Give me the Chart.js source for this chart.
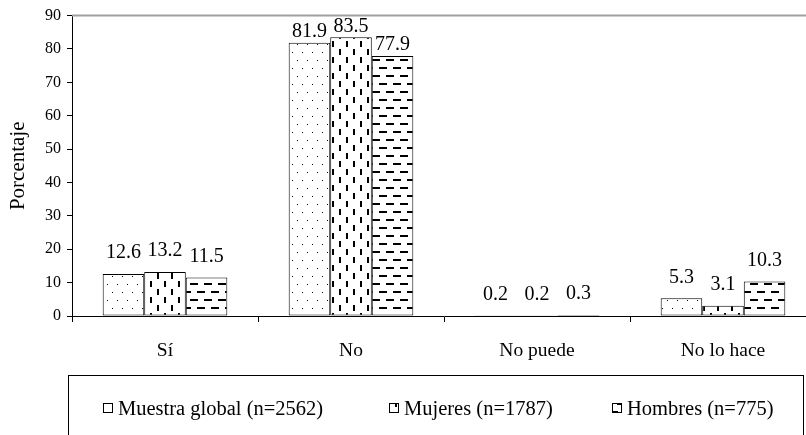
<!DOCTYPE html>
<html lang="es">
<head>
    <meta charset="UTF-8">
    <title>Porcentaje</title>
    <script src="https://cdn.jsdelivr.net/npm/chart.js"></script>
    <style>
        html, body {
            margin: 0;
            padding: 0;
            background: #fff;
            overflow: hidden;
        }
        #chart {
            display: block;
        }
    </style>
</head>
<body>
    <canvas id="chart" width="820" height="435"></canvas>

    <script>
        const categories = ['Sí', 'No', 'No puede', 'No lo hace'];
        const seriesNames = ['Muestra global (n=2562)', 'Mujeres (n=1787)', 'Hombres (n=775)'];
        const globalValues = [12.6, 81.9, 0.2, 5.3];
        const womenValues = [13.2, 83.5, 0.2, 3.1];
        const menValues = [11.5, 77.9, 0.3, 10.3];
        const yTicks = [0, 10, 20, 30, 40, 50, 60, 70, 80, 90];

        const serif = "'Liberation Serif', 'Times New Roman', serif";

        // fill patterns: dots, vertical dashes, horizontal dashes
        function makePattern(kind) {
            const c = document.createElement('canvas');
            const g = c.getContext('2d');
            if (kind === 'dots') {
                c.width = 10; c.height = 16;
                g.fillStyle = '#fff'; g.fillRect(0, 0, 10, 16);
                g.fillStyle = '#000';
                g.fillRect(2, 4, 1, 1);
                g.fillRect(7, 12, 1, 1);
            } else if (kind === 'vdash') {
                c.width = 14; c.height = 16;
                g.fillStyle = '#fff'; g.fillRect(0, 0, 14, 16);
                g.fillStyle = '#000';
                g.fillRect(3, 1, 2, 6);
                g.fillRect(10, 9, 2, 6);
            } else {
                c.width = 14; c.height = 16;
                g.fillStyle = '#fff'; g.fillRect(0, 0, 14, 16);
                g.fillStyle = '#000';
                g.fillRect(1, 3, 8, 2);
                g.fillRect(8, 11, 6, 2);
                g.fillRect(0, 11, 2, 2);
            }
            return g.createPattern(c, 'repeat');
        }

        const patterns = [makePattern('dots'), makePattern('vdash'), makePattern('hdash')];

        const valueLabels = {
            id: 'valueLabels',
            afterDatasetsDraw(chart) {
                const ctx = chart.ctx;
                ctx.save();
                ctx.font = '20px ' + serif;
                ctx.fillStyle = '#000';
                ctx.textAlign = 'center';
                ctx.textBaseline = 'middle';
                chart.data.datasets.forEach((ds, i) => {
                    chart.getDatasetMeta(i).data.forEach((bar, j) => {
                        const v = ds.data[j];
                        let y = bar.y - (v > 50 ? 11 : 21);
                        if (y < 25) y = 25;
                        ctx.fillText(v.toFixed(1), bar.x, y);
                    });
                });
                ctx.restore();
            }
        };

        // top border line of the plot area + boxed legend underneath
        const frameAndLegend = {
            id: 'frameAndLegend',
            afterDraw(chart) {
                const ctx = chart.ctx;
                const area = chart.chartArea;
                ctx.save();
                ctx.strokeStyle = '#a0a0a0';
                ctx.lineWidth = 2;
                ctx.beginPath();
                ctx.moveTo(area.left, area.top);
                ctx.lineTo(806, area.top);
                ctx.stroke();

                ctx.strokeStyle = '#000';
                ctx.lineWidth = 1;
                ctx.strokeRect(68.5, 375.5, 735, 80);

                const itemX = [103, 389, 612];
                ctx.font = '20.5px ' + serif;
                ctx.textBaseline = 'middle';
                ctx.textAlign = 'left';
                seriesNames.forEach((name, i) => {
                    const x = itemX[i];
                    ctx.fillStyle = patterns[i];
                    ctx.fillRect(x, 403, 10, 10);
                    ctx.strokeStyle = '#000';
                    ctx.strokeRect(x + 0.5, 403.5, 9, 9);
                    ctx.fillStyle = '#000';
                    ctx.fillText(name, x + 15, 410);
                });
                ctx.restore();
            }
        };

        const datasets = [globalValues, womenValues, menValues].map((vals, i) => ({
            label: seriesNames[i],
            data: vals,
            backgroundColor: patterns[i],
            borderColor: '#000',
            borderWidth: 1,
            borderSkipped: false,
            barPercentage: 1.0,
            categoryPercentage: 0.67
        }));

        new Chart(document.getElementById('chart'), {
            type: 'bar',
            data: { labels: categories, datasets: datasets },
            options: {
                responsive: false,
                devicePixelRatio: 1,
                animation: false,
                layout: { padding: { top: 14, right: 4, bottom: 0, left: 0 } },
                plugins: {
                    legend: { display: false },
                    tooltip: { enabled: false }
                },
                scales: {
                    x: {
                        afterFit(scale) { scale.height = 119; },
                        grid: {
                            offset: true,
                            color: 'transparent',
                            tickColor: '#000',
                            tickLength: 6
                        },
                        border: { display: true, color: '#000', width: 1 },
                        ticks: {
                            color: '#000',
                            font: { family: serif, size: 19.5 },
                            padding: 17,
                            maxRotation: 0,
                            autoSkip: false
                        }
                    },
                    y: {
                        min: 0,
                        max: 90,
                        afterFit(scale) { scale.width = 72; },
                        afterBuildTicks(scale) { scale.ticks = yTicks.map(v => ({ value: v })); },
                        grid: {
                            color: 'transparent',
                            tickColor: '#000',
                            tickLength: 5
                        },
                        border: { display: true, color: '#000', width: 1 },
                        ticks: {
                            color: '#000',
                            font: { family: serif, size: 16 },
                            padding: 6
                        },
                        title: {
                            display: true,
                            text: 'Porcentaje',
                            color: '#000',
                            font: { family: serif, size: 21 },
                            padding: { top: 6, bottom: 0 }
                        }
                    }
                }
            },
            plugins: [valueLabels, frameAndLegend]
        });
    </script>
</body>
</html>
